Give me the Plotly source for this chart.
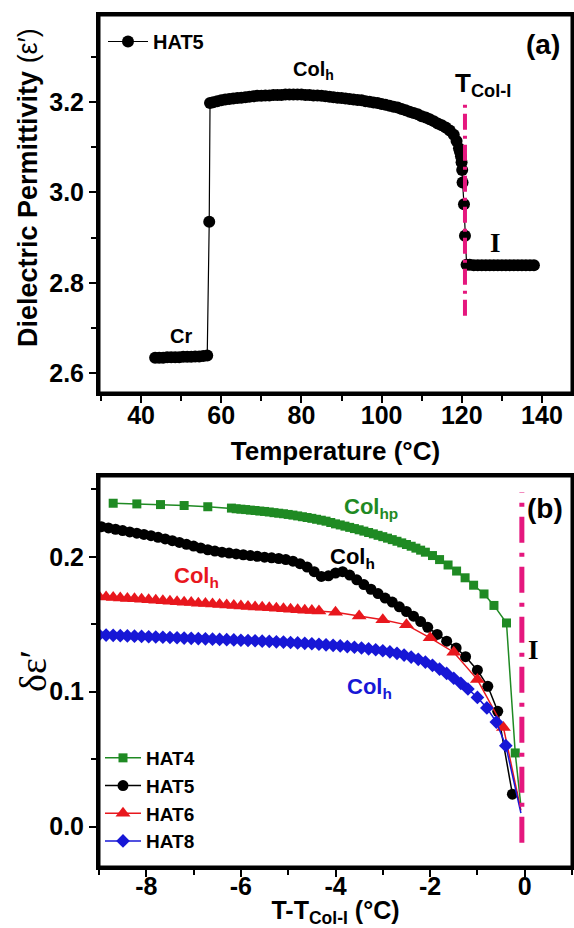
import plotly.graph_objects as go

# ---------------- Panel (a): HAT5, dielectric permittivity vs temperature ----------------
cr_temp = [43.5, 44.5, 45.5, 46.5, 47.5, 48.5, 49.5, 50.5, 51.5, 52.5, 53.5, 54.5, 55.5, 56.5]
cr_eps = [2.634, 2.634, 2.634, 2.635, 2.635, 2.635, 2.635, 2.636, 2.636, 2.636, 2.637, 2.637, 2.638, 2.639]

jump_temp = [57.0]
jump_eps = [2.935]

colh_temp = [57.2, 58, 59, 60, 61, 62, 63, 64, 65, 66, 67, 68, 69, 70, 71, 72, 73, 74, 75, 76, 77, 78,
             79, 80, 81, 82, 83, 84, 85, 86, 87, 88, 89, 90, 91, 92, 93, 94, 95, 96, 97, 98, 99, 100,
             101, 102, 103, 104, 105, 106, 107, 108, 109, 110, 111, 112, 113, 114, 115, 116, 117, 118,
             118.7, 119.3, 119.55, 119.8, 119.95, 120.1]
colh_eps = [3.198, 3.200, 3.202, 3.204, 3.206, 3.207, 3.208, 3.209, 3.210, 3.211, 3.212, 3.213, 3.214,
            3.214, 3.215, 3.215, 3.216, 3.216, 3.216, 3.217, 3.217, 3.217, 3.217, 3.217, 3.216, 3.216,
            3.215, 3.215, 3.214, 3.213, 3.212, 3.211, 3.210, 3.209, 3.208, 3.207, 3.206, 3.205, 3.204,
            3.202, 3.201, 3.199, 3.198, 3.196, 3.194, 3.192, 3.190, 3.188, 3.185, 3.182, 3.179, 3.176,
            3.173, 3.169, 3.166, 3.162, 3.158, 3.153, 3.149, 3.144, 3.137, 3.128, 3.114, 3.098, 3.090,
            3.080, 3.067, 3.050]

drop_temp = [120.2, 120.55, 120.8]
drop_eps = [3.022, 2.974, 2.904]

iso_temp = [121.2, 122, 123, 124, 125, 126, 127, 128, 129, 130, 131, 132, 133, 134, 135, 136, 137, 138]
iso_eps = [2.840, 2.840, 2.839, 2.839, 2.839, 2.839, 2.839, 2.839, 2.839, 2.839, 2.839, 2.839, 2.839,
           2.839, 2.839, 2.839, 2.839, 2.839]

t_col_i = 120.8
t_col_i_span = [2.727, 3.202]

xa_ticks = [40, 60, 80, 100, 120, 140]
ya_ticks = [2.6, 2.8, 3.0, 3.2]

# ---------------- Panel (b): delta epsilon vs T - T_Col-I ----------------
hat4_dt = [-8.7, -8.2, -7.7, -7.2, -6.7, -6.2,
           -6.1, -6.0, -5.9, -5.8, -5.7, -5.6, -5.5, -5.4, -5.3, -5.2, -5.1, -5.0, -4.9, -4.8, -4.7,
           -4.6, -4.5, -4.4, -4.3, -4.2, -4.1, -4.0, -3.9, -3.8, -3.7, -3.6, -3.5, -3.4, -3.3, -3.2,
           -3.1, -3.0, -2.9, -2.8, -2.7, -2.6, -2.5, -2.4, -2.3, -2.2, -2.1,
           -1.95, -1.8, -1.62, -1.44, -1.26, -1.08, -0.86, -0.65, -0.385, -0.2]
hat4_de = [0.2398, 0.2393, 0.2388, 0.2381, 0.2372, 0.2362,
           0.2357, 0.2354, 0.2351, 0.2347, 0.2344, 0.2340, 0.2337, 0.2333, 0.2328, 0.2324, 0.2320,
           0.2315, 0.2310, 0.2304, 0.2298, 0.2292, 0.2286, 0.2279, 0.2272, 0.2265, 0.2255, 0.2245,
           0.2237, 0.2228, 0.2219, 0.2210, 0.2201, 0.2191, 0.2181, 0.2171, 0.2160, 0.2150, 0.2139,
           0.2128, 0.2116, 0.2104, 0.2092, 0.2079, 0.2065, 0.2050, 0.2035,
           0.2010, 0.1980, 0.1940, 0.1895, 0.1845, 0.1790, 0.1725, 0.1640, 0.1510, 0.0546]
hat4_tail_dt = [-0.2, -0.08]
hat4_tail_de = [0.0546, 0.015]

hat5_dt = [-8.95, -8.8, -8.65, -8.5, -8.35, -8.2, -8.05, -7.9, -7.75, -7.6, -7.45, -7.3, -7.15, -7.0,
           -6.85, -6.7, -6.55, -6.4, -6.25, -6.1, -5.95, -5.8, -5.65, -5.5, -5.35, -5.2, -5.05, -4.9,
           -4.75, -4.6, -4.45, -4.3, -4.15, -4.0, -3.85, -3.7, -3.55, -3.4, -3.25, -3.1, -2.95, -2.8,
           -2.65, -2.5, -2.35, -2.2, -2.05, -1.85, -1.65, -1.45, -1.25, -1.0, -0.78, -0.57, -0.26]
hat5_de = [0.2224, 0.2215, 0.2205, 0.2195, 0.2185, 0.2176, 0.2167, 0.2157, 0.2145, 0.2133, 0.2120,
           0.2107, 0.2093, 0.2080, 0.2066, 0.2053, 0.2043, 0.2035, 0.2028, 0.2022, 0.2016, 0.2010,
           0.2004, 0.1998, 0.1993, 0.1988, 0.1980, 0.1968, 0.1950, 0.1925, 0.1890, 0.1855, 0.1860,
           0.1880, 0.1890, 0.1865, 0.1830, 0.1795, 0.1760, 0.1728, 0.1695, 0.1665, 0.1630, 0.1595,
           0.1560, 0.1520, 0.1478, 0.1425, 0.1375, 0.1325, 0.1260, 0.1160, 0.1040, 0.0855, 0.0240]

hat6_dt = [-9.0, -8.85, -8.7, -8.55, -8.4, -8.25, -8.1, -7.95, -7.8, -7.65, -7.5, -7.35, -7.2, -7.05,
           -6.9, -6.75, -6.6, -6.45, -6.3, -6.15, -6.0, -5.85, -5.7, -5.55, -5.4, -5.25, -5.1, -4.95,
           -4.8, -4.65, -4.5, -4.35, -4.0, -3.5, -3.0, -2.5, -2.0, -1.5, -1.0, -0.45]
hat6_de = [0.1706, 0.1703, 0.1699, 0.1696, 0.1692, 0.1689, 0.1685, 0.1682, 0.1678, 0.1675, 0.1671,
           0.1668, 0.1664, 0.1661, 0.1657, 0.1654, 0.1650, 0.1647, 0.1643, 0.1640, 0.1636, 0.1633,
           0.1629, 0.1626, 0.1622, 0.1619, 0.1615, 0.1612, 0.1608, 0.1605, 0.1602, 0.1599,
           0.1590, 0.1562, 0.1533, 0.1496, 0.1400, 0.1293, 0.1090, 0.0735]
hat6_tail_dt = [-0.45, -0.08]
hat6_tail_de = [0.0735, 0.012]

hat8_dt = [-9.0, -8.85, -8.7, -8.55, -8.4, -8.25, -8.1, -7.95, -7.8, -7.65, -7.5, -7.35, -7.2, -7.05,
           -6.9, -6.75, -6.6, -6.45, -6.3, -6.15, -6.0, -5.85, -5.7, -5.55, -5.4, -5.25, -5.1, -4.95,
           -4.8, -4.65, -4.5, -4.35, -4.2, -4.05, -3.9, -3.75, -3.6, -3.45, -3.3, -3.15, -3.0, -2.85,
           -2.7, -2.55, -2.4, -2.25, -2.1, -1.95, -1.8, -1.65, -1.5, -1.35, -1.2,
           -1.0, -0.8, -0.6, -0.4]
hat8_de = [0.1422, 0.1420, 0.1418, 0.1416, 0.1414, 0.1412, 0.1410, 0.1408, 0.1406, 0.1404, 0.1402,
           0.1400, 0.1398, 0.1396, 0.1394, 0.1392, 0.1390, 0.1388, 0.1386, 0.1384, 0.1382, 0.1380,
           0.1378, 0.1375, 0.1373, 0.1370, 0.1368, 0.1365, 0.1362, 0.1359, 0.1356, 0.1352, 0.1348,
           0.1344, 0.1340, 0.1335, 0.1330, 0.1324, 0.1318, 0.1311, 0.1304, 0.1295, 0.1285, 0.1272,
           0.1257, 0.1240, 0.1220, 0.1196, 0.1168, 0.1136, 0.1100, 0.1062, 0.1020,
           0.0958, 0.0880, 0.0775, 0.0600]
hat8_tail_dt = [-0.4, -0.08]
hat8_tail_de = [0.0600, 0.010]

dt_col_i = -0.06
dt_col_i_span = [-0.012, 0.248]

xb_ticks = [-8, -6, -4, -2, 0]
xb_ticktext = ["-8", "-6", "-4", "-2", "0"]
yb_ticks = [0.0, 0.1, 0.2]

# ---------------- styles ----------------
SANS = "Liberation Sans"
SERIF = "Liberation Serif"
PINK = "#e5177e"
GREEN = "#1f8a23"
RED = "#e8171d"
BLUE = "#1717d6"
W, H = 574, 928
A_L, A_R = 99, 572          # plot frame left/right (px)
A_T, A_B = 15, 393          # panel (a) top/bottom (px)
B_T, B_B = 476, 867         # panel (b) top/bottom (px)


def px_x(p):
    return p / W


def px_y(p):
    return 1 - p / H


fig = go.Figure()

# panel (a)
temp_a = cr_temp + jump_temp + colh_temp + drop_temp + iso_temp
eps_a = cr_eps + jump_eps + colh_eps + drop_eps + iso_eps
fig.add_trace(go.Scatter(x=temp_a, y=eps_a, mode="lines+markers", name="HAT5",
                         line=dict(color="black", width=1.2),
                         marker=dict(symbol="circle", size=12, color="black"),
                         xaxis="x", yaxis="y", legend="legend"))
fig.add_trace(go.Scatter(x=[t_col_i, t_col_i], y=t_col_i_span, mode="lines", showlegend=False,
                         line=dict(color=PINK, width=4, dash="16px,6px,3px,6px"),
                         xaxis="x", yaxis="y"))

# panel (b)
series = [
    ("HAT4", hat4_dt, hat4_de, hat4_tail_dt, hat4_tail_de, GREEN, "square", 9),
    ("HAT5", hat5_dt, hat5_de, None, None, "black", "circle", 11),
    ("HAT6", hat6_dt, hat6_de, hat6_tail_dt, hat6_tail_de, RED, "triangle-up", 13),
    ("HAT8", hat8_dt, hat8_de, hat8_tail_dt, hat8_tail_de, BLUE, "diamond", 10.5),
]
for name, xs, ys, tx, ty, col, sym, sz in series:
    if tx is not None:
        fig.add_trace(go.Scatter(x=tx, y=ty, mode="lines", showlegend=False,
                                 line=dict(color=col, width=1.5), xaxis="x2", yaxis="y2"))
    fig.add_trace(go.Scatter(x=xs, y=ys, mode="lines+markers", name=name,
                             line=dict(color=col, width=1.5),
                             marker=dict(symbol=sym, size=sz, color=col),
                             xaxis="x2", yaxis="y2", legend="legend2"))

fig.add_trace(go.Scatter(x=[dt_col_i, dt_col_i], y=dt_col_i_span, mode="lines", showlegend=False,
                         line=dict(color=PINK, width=5, dash="26px,10px,4px,10px"),
                         xaxis="x2", yaxis="y2"))

axis_common = dict(showline=True, linecolor="#000000", linewidth=3, mirror=True,
                   ticks="outside", ticklen=7, tickwidth=2, tickcolor="black",
                   showgrid=False, zeroline=False,
                   tickfont=dict(family=SANS, size=25, color="black", weight="bold"))
minor_common = dict(ticks="outside", ticklen=5, tickwidth=2, tickcolor="black")

fig.update_layout(
    width=W, height=H, autosize=False,
    margin=dict(l=0, r=0, t=0, b=0),
    paper_bgcolor="white", plot_bgcolor="white",
    font=dict(family=SANS, color="black"),
    xaxis=dict(axis_common, domain=[px_x(A_L), px_x(A_R)], range=[29.5, 147.5], anchor="y",
               tickvals=xa_ticks, ticklabelstandoff=-9,
               minor=dict(minor_common, dtick=10, tick0=30),
               title=dict(text="Temperature (°C)", standoff=14,
                          font=dict(family=SANS, size=26, color="black", weight="bold"))),
    yaxis=dict(axis_common, domain=[px_y(A_B), px_y(A_T)], range=[2.556, 3.393], anchor="x",
               tickvals=ya_ticks, tickformat=".1f",
               minor=dict(minor_common, dtick=0.1, tick0=2.5)),
    xaxis2=dict(axis_common, domain=[px_x(A_L), px_x(A_R)], range=[-9, 1], anchor="y2",
                tickvals=xb_ticks, ticktext=xb_ticktext, ticklabelstandoff=-12,
                minor=dict(minor_common, dtick=1, tick0=-9),
                title=dict(text="T-T<sub>Col-I</sub> (°C)", standoff=6,
                           font=dict(family=SANS, size=25, color="black", weight="bold"))),
    yaxis2=dict(axis_common, domain=[px_y(B_B), px_y(B_T)], range=[-0.03, 0.26], anchor="x2",
                tickvals=yb_ticks, tickformat=".1f",
                minor=dict(minor_common, dtick=0.05, tick0=0)),
    legend=dict(x=px_x(103), y=px_y(22), xanchor="left", yanchor="top", itemwidth=40,
                bgcolor="rgba(0,0,0,0)", borderwidth=0,
                font=dict(family=SANS, size=20, color="black", weight="bold")),
    legend2=dict(x=px_x(100), y=px_y(739), xanchor="left", yanchor="top", itemwidth=36,
                 bgcolor="rgba(0,0,0,0)", borderwidth=0, tracegroupgap=0,
                 font=dict(family=SANS, size=19, color="black", weight="bold")),
    showlegend=True,
)

# plot frames (paper-referenced rectangles at the panel edges)
shapes = []
for (x0, x1, y0, y1) in ((A_L, A_R, A_B, A_T), (A_L, A_R, B_B, B_T)):
    shapes.append(dict(type="rect", xref="paper", yref="paper",
                       x0=px_x(x0), x1=px_x(x1), y0=px_y(y0), y1=px_y(y1),
                       line=dict(color="#000000", width=3), fillcolor="rgba(0,0,0,0)", layer="above"))
fig.update_layout(shapes=shapes)

ann = []
# y-axis titles
ann.append(dict(x=px_x(28), y=px_y(188), xref="paper", yref="paper", showarrow=False,
                xanchor="center", yanchor="middle", textangle=-90,
                text="<b>Dielectric Permittivity</b> (ε′)",
                font=dict(family=SANS, size=27, color="black")))
ann.append(dict(x=px_x(33), y=px_y(671), xref="paper", yref="paper", showarrow=False,
                xanchor="center", yanchor="middle", textangle=-90, text="δε′",
                font=dict(family=SERIF, size=38, color="black")))
# panel (a) labels
ann.append(dict(x=83, y=3.27, xref="x", yref="y", showarrow=False, text="<b>Col<sub>h</sub></b>",
                font=dict(family=SANS, size=20, color="black")))
ann.append(dict(x=125.3, y=3.24, xref="x", yref="y", showarrow=False, text="<b>T<sub>Col-I</sub></b>",
                font=dict(family=SANS, size=26, color="black")))
ann.append(dict(x=140.3, y=3.327, xref="x", yref="y", showarrow=False, text="<b>(a)</b>",
                font=dict(family=SANS, size=28, color="black")))
ann.append(dict(x=50, y=2.682, xref="x", yref="y", showarrow=False, text="<b>Cr</b>",
                font=dict(family=SANS, size=20, color="black")))
ann.append(dict(x=128.3, y=2.889, xref="x", yref="y", showarrow=False, text="<b>I</b>",
                font=dict(family=SERIF, size=27, color="black")))
# panel (b) labels
ann.append(dict(x=-3.26, y=0.236, xref="x2", yref="y2", showarrow=False, text="<b>Col<sub>hp</sub></b>",
                font=dict(family=SANS, size=22, color=GREEN)))
ann.append(dict(x=-3.64, y=0.199, xref="x2", yref="y2", showarrow=False, text="<b>Col<sub>h</sub></b>",
                font=dict(family=SANS, size=22, color="black")))
ann.append(dict(x=-6.93, y=0.185, xref="x2", yref="y2", showarrow=False, text="<b>Col<sub>h</sub></b>",
                font=dict(family=SANS, size=22, color=RED)))
ann.append(dict(x=-3.28, y=0.103, xref="x2", yref="y2", showarrow=False, text="<b>Col<sub>h</sub></b>",
                font=dict(family=SANS, size=22, color=BLUE)))
ann.append(dict(x=0.19, y=0.131, xref="x2", yref="y2", showarrow=False, text="<b>I</b>",
                font=dict(family=SERIF, size=27, color="black")))
ann.append(dict(x=0.42, y=0.236, xref="x2", yref="y2", showarrow=False, text="<b>(b)</b>",
                font=dict(family=SANS, size=28, color="black")))
fig.update_layout(annotations=ann)

fig.write_html("out.html", config={"displayModeBar": False},
               post_script="document.body.style.margin='0';")
